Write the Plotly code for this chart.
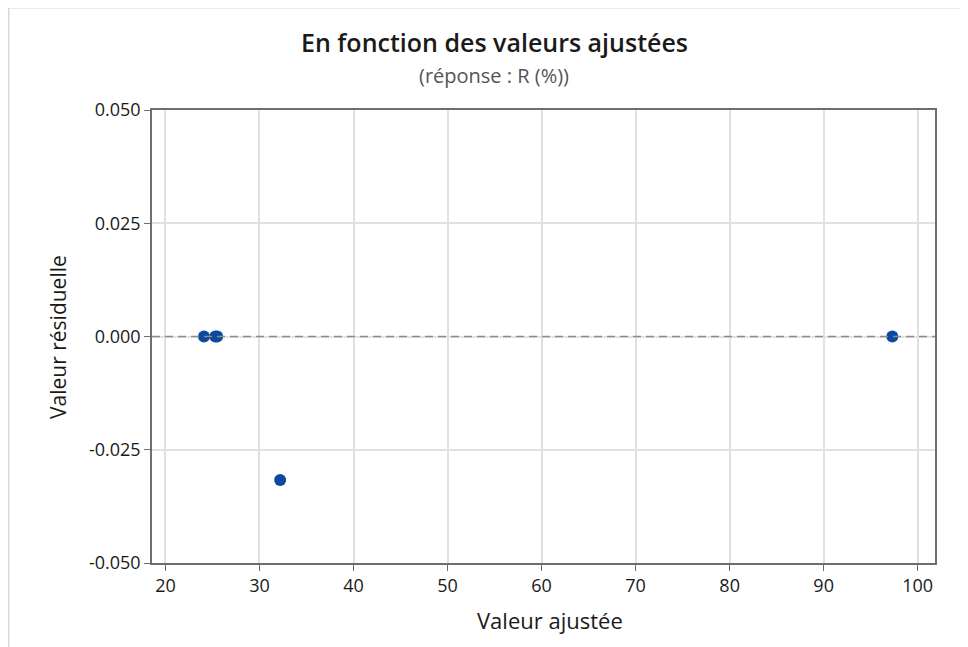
import plotly.graph_objects as go

fitted = [24.1, 25.3, 25.5, 32.2, 97.3]
residual = [0.0, 0.0, 0.0, -0.0317, 0.0]

x_ticks = [20, 30, 40, 50, 60, 70, 80, 90, 100]
y_ticks = [-0.050, -0.025, 0.000, 0.025, 0.050]
y_tick_labels = ["-0.050", "-0.025", "0.000", "0.025", "0.050"]

FONT = "Open Sans"
TXT = "#1A1A1A"

# plot area in figure pixels
L, R, T, B = 144, 927, 102, 555
W, H = 960, 639
PW, PH = R - L, B - T

def px(x):
    return (x - L) / PW

def py(y):
    return (B - y) / PH

fig = go.Figure()
fig.add_trace(go.Scatter(
    x=fitted, y=residual, mode="markers",
    marker=dict(size=12, color="#0B4A9E"),
    showlegend=False, cliponaxis=False,
))

fig.add_hline(y=0, line=dict(color="#8C8C8C", width=1.5, dash="8px,5px"), layer="above")

# outer frame
fig.add_shape(type="rect", xref="paper", yref="paper",
              x0=px(0.5), x1=px(W + 5), y0=py(H + 5), y1=py(-0.5),
              line=dict(color="#D9D9D9", width=2), layer="below")

axis_common = dict(
    showline=True, linecolor="#6E6E6E", linewidth=1.5, mirror=True,
    showgrid=True, gridcolor="#E1E1E1", gridwidth=1.5,
    ticks="outside", ticklen=6, tickcolor="#6E6E6E", tickwidth=1.2,
    tickfont=dict(family=FONT, size=18, color=TXT),
    zeroline=False,
)

fig.update_xaxes(range=[18.57, 101.84], tickvals=x_ticks, **axis_common)
fig.update_yaxes(range=[-0.05, 0.05], tickvals=y_ticks, ticktext=y_tick_labels, **axis_common)

fig.add_annotation(text="En fonction des valeurs ajustées", xref="paper", yref="paper",
                   x=px(486), y=py(34), xanchor="center", yanchor="middle", showarrow=False,
                   font=dict(family=FONT, size=25, color=TXT, weight=600))
fig.add_annotation(text="(réponse : R (%))", xref="paper", yref="paper",
                   x=px(486), y=py(67), xanchor="center", yanchor="middle", showarrow=False,
                   font=dict(family=FONT, size=20, color="#555555"))
fig.add_annotation(text="Valeur ajustée", xref="paper", yref="paper",
                   x=px(542), y=py(612), xanchor="center", yanchor="middle", showarrow=False,
                   font=dict(family=FONT, size=22, color=TXT))
fig.add_annotation(text="Valeur résiduelle", xref="paper", yref="paper", textangle=-90,
                   x=px(50), y=py(329), xanchor="center", yanchor="middle", showarrow=False,
                   font=dict(family=FONT, size=21, color=TXT))

fig.update_layout(
    width=W, height=H,
    margin=dict(l=L, r=W - R, t=T, b=H - B),
    plot_bgcolor="white", paper_bgcolor="white",
)

fig.write_html("out.html")
